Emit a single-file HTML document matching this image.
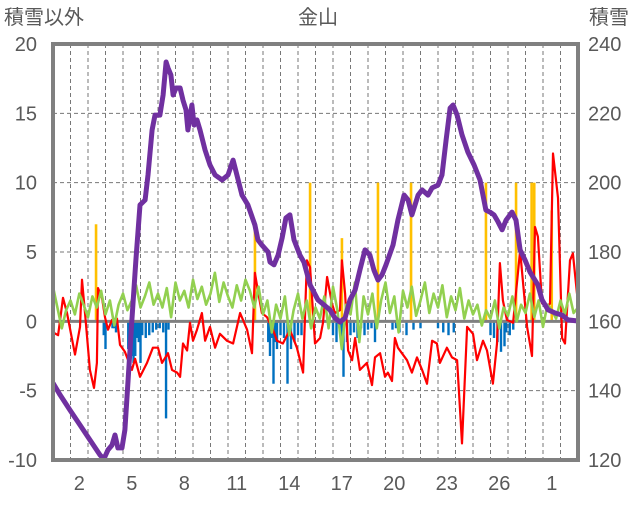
<!DOCTYPE html>
<html><head><meta charset="utf-8"><style>
body{margin:0;background:#fff;}
svg text{font-family:"Liberation Sans","Noto Sans CJK JP",sans-serif;fill:#595959;}
</style></head><body>
<svg id="chart" width="636" height="501" xmlns="http://www.w3.org/2000/svg">
<text x="4" y="24" font-size="20">積雪以外</text>
<text x="318" y="24" font-size="20" text-anchor="middle">金山</text>
<text x="589" y="24" font-size="20">積雪</text>
<g id="grid"></g>
<g id="bars"></g>
<g id="lines"></g>
<g id="axes"></g>
</svg>
<script>
const leftTicks=[-10,-5,0,5,10,15,20];
const rightTicks=[120,140,160,180,200,220,240];
const xTickLabels=["2","5","8","11","14","17","20","23","26","1"];
const xTickDays=[1.5,4.5,7.5,10.5,13.5,16.5,19.5,22.5,25.5,28.5];
const snowDays=[0,.4,.97,1.54,2.11,2.69,2.91,3.14,3.37,3.54,3.71,3.94,4.11,4.29,4.51,4.74,4.97,5.26,5.43,5.66,5.83,6.11,6.29,6.46,6.57,6.74,6.86,7.03,7.26,7.43,7.6,7.71,7.94,8.06,8.23,8.4,8.69,8.97,9.26,9.66,10,10.29,10.51,10.8,11.14,11.54,11.71,11.94,12.29,12.4,12.63,12.86,13.09,13.31,13.54,13.77,14.11,14.34,14.69,15.14,15.49,15.83,16.11,16.4,16.69,16.97,17.26,17.54,17.83,18.11,18.34,18.57,18.8,19.03,19.43,19.71,20.06,20.29,20.51,20.86,21.09,21.43,21.66,22,22.23,22.46,22.69,22.86,23.09,23.37,23.71,24.06,24.4,24.74,24.97,25.2,25.43,25.66,25.89,26.23,26.46,26.69,26.97,27.26,27.71,27.94,28.29,28.69,29.09,29.43,30];
const snowVals=[142.2,138.8,134.4,130.1,125.8,121.4,120.3,122.9,124.3,127.2,123.5,123.5,128.7,143.1,160.4,177.7,193.6,195.0,202.2,215.2,219.5,219.5,225.3,234.8,233.1,231.1,225.3,227.3,227.3,223.8,221.0,215.2,222.4,216.6,218.1,215.2,209.4,205.1,202.2,200.8,202.2,206.5,202.2,196.4,193.6,187.8,183.5,182.0,180.0,177.1,176.3,179.1,184.0,189.8,190.7,183.5,179.1,177.1,170.5,166.2,164.7,163.3,161.0,159.8,161.0,166.2,169.0,174.8,180.6,179.1,174.8,171.9,173.4,176.3,182.0,189.2,196.4,195.0,190.7,196.4,197.9,196.4,198.5,199.3,202.2,212.3,221.5,222.4,219.5,213.8,208.8,205.1,200.8,192.1,191.5,190.7,188.7,186.4,189.2,191.5,189.2,180.6,177.7,174.2,170.5,166.2,163.3,162.4,161.8,160.4,160.1];
const redDays=[0,.29,.57,.8,1.26,1.54,1.66,1.83,2.11,2.34,2.51,2.57,2.8,2.97,3.14,3.37,3.66,3.83,4.11,4.51,4.69,4.97,5.37,5.71,6,6.23,6.57,6.8,7.09,7.26,7.43,7.66,7.83,8,8.23,8.51,8.69,8.97,9.26,9.54,9.94,10.29,10.69,11.09,11.37,11.54,11.71,11.94,12.23,12.57,12.8,13.14,13.54,13.94,14.29,14.51,14.69,14.97,15.26,15.43,15.66,15.94,16.11,16.4,16.51,16.69,16.86,17.09,17.26,17.54,17.94,18.23,18.4,18.69,18.97,19.14,19.37,19.54,19.71,19.94,20.23,20.51,20.8,21.09,21.37,21.66,21.94,22.11,22.51,22.8,23.09,23.37,23.66,24,24.23,24.57,24.8,25.14,25.37,25.54,25.71,25.94,26.29,26.69,27.09,27.37,27.54,27.71,27.94,28.23,28.4,28.57,28.86,29.09,29.26,29.54,29.71,29.94];
const redVals=[-0.8,-1.0,1.7,0.6,-2.4,-0.4,3.0,0.6,-3.5,-4.8,-3.0,2.4,1.7,0.3,-0.6,0.1,0.2,-1.7,-2.2,-3.5,-2.7,-4.0,-3.0,-1.9,-1.9,-3.0,-2.3,-3.5,-3.7,-4.0,-1.6,-2.1,-0.1,-1.4,-0.6,0.6,-1.4,-0.4,-1.9,-0.9,-1.4,-1.6,0.6,-0.6,-2.3,3.5,2.2,0.6,0.3,-0.6,-1.4,-1.6,-0.6,-1.9,-3.7,4.4,3.9,-1.6,-1.2,-0.1,3.2,1.3,0.6,0.8,4.4,2.0,-2.1,-2.8,-1.2,-3.5,-3.0,-4.6,-2.6,-2.3,-4.0,-3.7,-4.3,-1.2,-1.9,-2.3,-2.8,-3.7,-2.6,-3.5,-4.5,-1.4,-1.6,-3.0,-1.9,-2.6,-2.8,-8.8,-0.4,-0.9,-2.8,-1.4,-2.1,-4.5,-1.6,4.2,1.5,0.1,-0.1,5.1,-0.4,-2.5,6.8,6.1,1.3,1.0,1.3,12.1,8.9,-1.2,-1.6,4.4,4.9,2.0];
const greenStep=0.25;
const greenVals=[2.5,1.0,-0.5,0.8,1.5,0.5,2.0,1.2,0.3,1.8,1.0,2.2,
0.5,1.5,-0.3,1.2,2.0,0.8,1.5,2.6,1.0,1.8,2.8,1.2,
2.0,1.0,2.4,0.3,2.8,1.5,2.2,1.0,3.0,1.6,2.5,1.2,
2.0,3.5,1.4,2.8,1.8,1.0,2.6,1.5,3.0,2.2,1.0,2.5,
0.5,1.5,-0.8,1.2,0.2,1.8,-1.0,0.8,2.0,0.2,1.5,-0.5,
1.0,0.2,1.8,-0.5,2.5,0.8,-2.0,1.2,0.5,2.8,-1.5,1.8,
0.5,2.0,-0.5,1.5,2.8,0.6,1.8,-0.8,2.2,1.0,2.5,0.4,
1.5,2.8,0.6,2.0,1.0,2.6,0.3,1.8,0.8,2.4,0.2,1.5,
0.5,1.2,-0.3,0.8,0.2,1.5,-0.5,1.0,0.4,1.8,0.0,1.2,
0.6,2.0,0.3,1.5,-0.4,1.2,0.8,0.2,1.5,0.5,2.0,0.6,1.0];
const blueDays=[2.9,3.0,3.4,3.5,3.6,4.3,4.4,4.5,4.6,4.7,4.8,4.9,5.0,5.1,5.3,5.5,5.7,5.9,6.1,6.3,6.46,6.6,12.3,12.4,12.5,12.6,12.7,12.8,13.0,13.2,13.4,13.6,13.8,14.0,14.2,16.0,16.2,16.4,16.5,16.6,16.8,17.0,17.2,17.4,17.6,17.8,18.0,18.2,18.4,19.4,19.6,19.8,20.2,20.6,21.0,22.0,22.3,22.6,22.9,25.0,25.2,25.4,25.6,25.8,25.9,26.1,26.3];
const blueVals=[-1.0,-2.0,-0.5,-0.5,-0.8,-2.0,-1.5,-2.5,-3.0,-2.5,-1.2,-1.5,-3.0,-1.0,-1.2,-1.0,-0.8,-0.6,-0.5,-0.8,-7.0,-0.6,-1.5,-2.5,-1.2,-4.5,-1.5,-2.0,-1.0,-1.2,-4.5,-2.0,-1.5,-1.0,-1.0,-1.0,-1.5,-0.5,-2.0,-4.0,-1.5,-1.0,-0.8,-1.2,-0.5,-1.0,-0.6,-0.5,-1.5,-0.6,-0.5,-0.8,-1.0,-0.6,-0.5,-0.5,-0.8,-1.0,-0.8,-1.0,-1.2,-1.5,-2.2,-1.8,-0.8,-1.0,-0.6];
const yellowDays=[2.46,11.54,14.69,16.51,18.57,20.46,24.74,26.46,27.35,27.5,28.5];
const yellowVals=[7.0,6.5,10.0,6.0,10.0,10.0,10.0,10.0,10.0,10.0,8.0];

const NS="http://www.w3.org/2000/svg";
const L=53,R=578,T=44,B=460,DAYS=30;
const xs=d=>L+d*(R-L)/DAYS;
const yl=v=>B-(v+10)*(B-T)/30;
const yr=s=>B-(s-120)*(B-T)/120;
function mk(tag,parent,attrs){const e=document.createElementNS(NS,tag);for(const k in attrs)e.setAttribute(k,attrs[k]);document.getElementById(parent).appendChild(e);return e;}

for(let k=1;k<DAYS;k++){
  const g=mk('line','grid',{x1:xs(k),x2:xs(k),y1:T,y2:B,stroke:'#777','stroke-width':1,'stroke-dasharray':'4,3'});
  
  
}
leftTicks.forEach(v=>{
  if(v!==-10&&v!==20&&v!==0){
    const g=mk('line','grid',{x1:L,x2:R,y1:yl(v),y2:yl(v),stroke:'#777','stroke-width':1,'stroke-dasharray':'4,3'});
    
    
  }
  const t=mk('text','axes',{x:37,y:yl(v)+7,'font-size':20,'text-anchor':'end'});
  t.textContent=v;
  
  
});
rightTicks.forEach(s=>{
  const t=mk('text','axes',{x:588,y:yr(s)+7,'font-size':20});
  t.textContent=s;
  
  
});
xTickLabels.forEach((lab,i)=>{
  const t=mk('text','axes',{x:xs(xTickDays[i]),y:490,'font-size':20,'text-anchor':'middle'});
  t.textContent=lab;
  
  
});
blueDays.forEach((d,i)=>{
  const r=mk('rect','bars',{x:xs(d)-1.2,y:yl(0),width:2.4,height:yl(blueVals[i])-yl(0),fill:'#0070C0'});
  
  
});
yellowDays.forEach((d,i)=>{
  const r=mk('rect','bars',{x:xs(d)-1.3,y:yl(yellowVals[i]),width:2.6,height:yl(0)-yl(yellowVals[i]),fill:'#FFC000'});
  
  
});
const zl=mk('line','bars',{x1:L,x2:R,y1:yl(0),y2:yl(0),stroke:'#808080','stroke-width':3});



const redPts=redDays.map((d,i)=>xs(d).toFixed(1)+','+yl(redVals[i]).toFixed(1)).join(' ');
const red=mk('polyline','lines',{points:redPts,fill:'none',stroke:'#FF0000','stroke-width':2.2,'stroke-linejoin':'round'});


const greenPts=greenVals.map((v,i)=>xs(i*greenStep).toFixed(1)+','+yl(v).toFixed(1)).join(' ');
const green=mk('polyline','lines',{points:greenPts,fill:'none',stroke:'#92D050','stroke-width':2.6,'stroke-linejoin':'round'});


const snowPts=snowDays.map((d,i)=>xs(d).toFixed(1)+','+yr(snowVals[i]).toFixed(1)).join(' ');
const snow=mk('polyline','lines',{points:snowPts,fill:'none',stroke:'#7030A0','stroke-width':5,'stroke-linejoin':'round'});



const frame=mk('rect','axes',{x:L,y:T,width:R-L,height:B-T,fill:'none',stroke:'#808080','stroke-width':4});


</script>
</body></html>
